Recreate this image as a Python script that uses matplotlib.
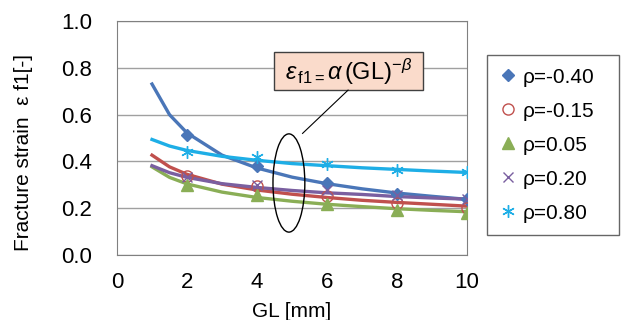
import numpy as np
import matplotlib.pyplot as plt
from matplotlib.patches import Ellipse, Rectangle

plt.rcParams['font.family'] = ['Liberation Sans', 'DejaVu Sans']
plt.rcParams['mathtext.fontset'] = 'custom'
plt.rcParams['mathtext.rm'] = 'Liberation Sans'
plt.rcParams['mathtext.it'] = 'Liberation Sans:italic'

# measured points
gl = [2, 4, 6, 8, 10]
rho_m040 = [0.513, 0.382, 0.306, 0.259, 0.238]
rho_m015 = [0.339, 0.296, 0.253, 0.221, 0.202]
rho_005 = [0.299, 0.256, 0.217, 0.192, 0.181]
rho_020 = [0.332, 0.299, 0.278, 0.256, 0.239]
rho_080 = [0.441, 0.420, 0.389, 0.363, 0.353]

# fitted curves
gl_fit = [1, 1.5, 2, 3, 4, 5, 6, 7, 8, 9, 10]
fit_m040 = [0.731, 0.600, 0.522, 0.427, 0.372, 0.333, 0.305, 0.283, 0.265, 0.251, 0.238]
fit_m015 = [0.427, 0.377, 0.345, 0.303, 0.278, 0.260, 0.246, 0.234, 0.225, 0.217, 0.209]
fit_005 = [0.377, 0.332, 0.304, 0.269, 0.246, 0.230, 0.217, 0.207, 0.198, 0.191, 0.185]
fit_020 = [0.382, 0.352, 0.332, 0.305, 0.289, 0.276, 0.266, 0.259, 0.250, 0.244, 0.239]
fit_080 = [0.494, 0.466, 0.447, 0.422, 0.405, 0.391, 0.382, 0.373, 0.366, 0.359, 0.353]

labels = ['ρ=-0.40', 'ρ=-0.15', 'ρ=0.05', 'ρ=0.20', 'ρ=0.80']
colors = ['#4A76B8', '#C0504D', '#8AAE56', '#7A5FA0', '#1EAEE6']

fig = plt.figure(figsize=(6.27, 3.2), dpi=100)
ax = fig.add_axes([0.1866, 0.203, 0.5584, 0.731])

fits = [fit_m040, fit_m015, fit_005, fit_020, fit_080]
for f, c in zip(fits, colors):
    ax.plot(gl_fit, f, color=c, lw=2.4, zorder=2)

pts = [rho_m040, rho_m015, rho_005, rho_020, rho_080]
styles = [
    dict(marker='D', ms=6, mfc=colors[0], mec=colors[0]),
    dict(marker='o', ms=8, mfc='none', mec=colors[1], mew=1.0),
    dict(marker='^', ms=8, mfc=colors[2], mec=colors[2]),
    dict(marker='x', ms=7, mec=colors[3], mew=1.0),
    dict(marker=(6, 2, 0), ms=9, mec=colors[4], mew=1.0),
]
handles = []
for p, st, lab in zip(pts, styles, labels):
    h, = ax.plot(gl, p, ls='none', label=lab, zorder=3, **st)
    handles.append(h)

ax.set_xlim(0, 10)
ax.set_ylim(0, 1.0)
ax.set_xticks([0, 2, 4, 6, 8, 10])
ax.set_yticks([0, 0.2, 0.4, 0.6, 0.8, 1.0])
ax.set_yticklabels(['0.0', '0.2', '0.4', '0.6', '0.8', '1.0'])
ax.tick_params(length=0, labelsize=16)
ax.tick_params(axis='y', pad=18)
ax.tick_params(axis='x', pad=12)
ax.grid(axis='y', color='#A0A0A0', lw=1.0)
ax.set_axisbelow(True)
for s in ax.spines.values():
    s.set_color('#808080')
ax.set_xlabel('GL [mm]', fontsize=15, labelpad=7)
ax.set_ylabel('Fracture strain  ε f1[-]', fontsize=15)
ax.yaxis.set_label_coords(-0.24, 0.44)

# formula box, leader line and ellipse
ax.add_patch(Rectangle((4.49, 0.705), 4.26, 0.163, facecolor='#FADBCB',
                       edgecolor='#404040', lw=1.0, zorder=4))
ax.text(6.62, 0.785, r'$\varepsilon_{\,\mathrm{f1=}}\alpha\,\mathrm{(GL)}^{-\beta}$',
        ha='center', va='center', fontsize=17, zorder=5)
ax.plot([6.6, 5.3], [0.705, 0.520], color='black', lw=0.8, zorder=4)
ax.add_patch(Ellipse((4.91, 0.308), 0.91, 0.42, facecolor='none',
                     edgecolor='black', lw=1.0, zorder=4))

leg = fig.legend(handles=handles, loc='upper left',
                 bbox_to_anchor=(0.777, 0.828, 0.21, 0.0), mode='expand',
                 borderaxespad=0, fontsize=15, frameon=True, fancybox=False,
                 edgecolor='#404040', labelspacing=0.72, handlelength=0.8,
                 handletextpad=0.3, borderpad=0.6)
leg.get_frame().set_linewidth(1.0)

fig.savefig('out.png', dpi=100)
